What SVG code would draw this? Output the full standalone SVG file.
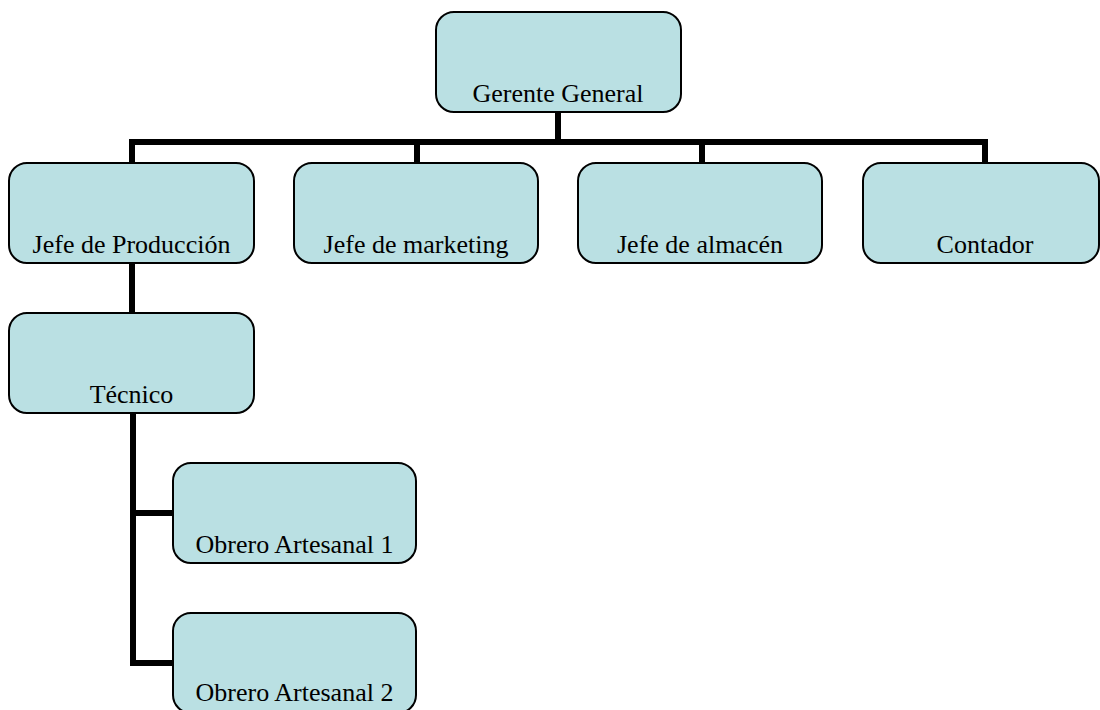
<svg xmlns="http://www.w3.org/2000/svg" width="1100" height="710" viewBox="0 0 1100 710">
<style>
.box{fill:#BAE0E3;stroke:#000;stroke-width:2}
.lbl{font-family:"Liberation Serif","Times New Roman",serif;font-size:26px;fill:#000;text-anchor:middle}
.con{fill:none;stroke:#000;stroke-width:6;stroke-linejoin:miter;stroke-linecap:butt}
</style>
<rect width="1100" height="710" fill="#fff"/>
<g id="connectors">
<path class="con" d="M558 112V142"/>
<path class="con" d="M132 163V142H985V163"/>
<path class="con" d="M417 142V163"/>
<path class="con" d="M702 142V163"/>
<path class="con" d="M132 263V313"/>
<path class="con" d="M133 413V663H173"/>
<path class="con" d="M133 513H173"/>
</g>
<g id="gerente"><rect class="box" x="436" y="12" width="245" height="100" rx="18"/><text class="lbl" x="558" y="102">Gerente General</text></g>
<g id="jefe-produccion"><rect class="box" x="9" y="163" width="245" height="100" rx="18"/><text class="lbl" x="131.5" y="253">Jefe de Producción</text></g>
<g id="jefe-marketing"><rect class="box" x="294" y="163" width="244" height="100" rx="18"/><text class="lbl" x="416" y="253">Jefe de marketing</text></g>
<g id="jefe-almacen"><rect class="box" x="578" y="163" width="244" height="100" rx="18"/><text class="lbl" x="700" y="253">Jefe de almacén</text></g>
<g id="contador"><rect class="box" x="863" y="163" width="236" height="100" rx="18"/><text class="lbl" x="985" y="253">Contador</text></g>
<g id="tecnico"><rect class="box" x="9" y="313" width="245" height="100" rx="18"/><text class="lbl" x="131.5" y="403">Técnico</text></g>
<g id="obrero1"><rect class="box" x="173" y="463" width="243" height="100" rx="18"/><text class="lbl" x="294.5" y="553">Obrero Artesanal 1</text></g>
<g id="obrero2"><rect class="box" x="173" y="613" width="243" height="100" rx="18"/><text class="lbl" x="294.5" y="701">Obrero Artesanal 2</text></g>
</svg>
